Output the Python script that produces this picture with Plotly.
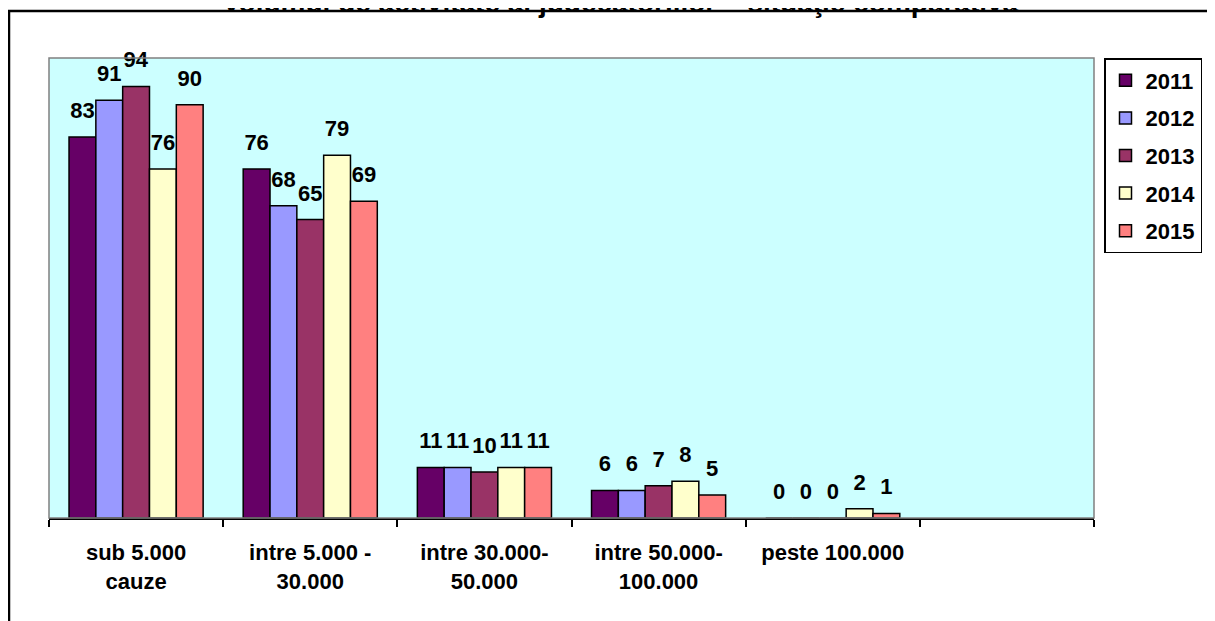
import plotly.graph_objects as go

categories = ["sub 5.000<br>cauze", "intre 5.000 -<br>30.000", "intre 30.000-<br>50.000",
              "intre 50.000-<br>100.000", "peste 100.000", " "]
years = ["2011", "2012", "2013", "2014", "2015"]
values = {
    "2011": [83, 76, 11, 6, 0],
    "2012": [91, 68, 11, 6, 0],
    "2013": [94, 65, 10, 7, 0],
    "2014": [76, 79, 11, 8, 2],
    "2015": [90, 69, 11, 5, 1],
}
colors = ["#660066", "#9999FF", "#993366", "#FFFFCC", "#FF8080"]
title = "Volumul de activitate al judecătoriilor – situaţie comparativă"
label_pad = 2.4  # gap (in value units) between bar top and its label

FONT = "Arial, Liberation Sans, sans-serif"
W, H = 1215, 621
OFF = 8  # page body margin
# plot area in screen pixels
SL, ST, SR, SB = 49, 58, 1094, 518
L, T = SL - OFF, ST - OFF
R, B = W - (SR - OFF), H - (SB - OFF)
pw, ph = SR - SL, SB - ST

def px(x):
    return (x - SL) / pw

def py(y):
    return (SB - y) / ph

fig = go.Figure()
for i, yr in enumerate(years):
    fig.add_trace(go.Bar(
        name=yr, x=categories[:5], y=values[yr], offsetgroup=yr,
        marker=dict(color=colors[i], line=dict(color="black", width=1.5)),
        legendgroup=yr, hoverinfo="x+y+name",
    ))
for i, yr in enumerate(years):
    fig.add_trace(go.Bar(
        name=yr, x=categories[:5], y=[label_pad] * len(values[yr]), base=values[yr],
        offsetgroup=yr, showlegend=False, hoverinfo="skip",
        marker=dict(color="rgba(0,0,0,0)", line=dict(width=0)),
        text=[str(v) for v in values[yr]], textposition="outside",
        textfont=dict(family=FONT, size=22, color="black", weight="bold"),
        constraintext="none", cliponaxis=False, legendgroup=yr,
    ))

fig.update_layout(
    width=W, height=H,
    margin=dict(l=L, r=R, t=T, b=B, autoexpand=False),
    paper_bgcolor="white", plot_bgcolor="#CCFFFF",
    barmode="group", bargap=0.23, bargroupgap=0,
    showlegend=True,
    legend=dict(x=px(1104), y=1.0, xanchor="left", yanchor="top",
                bordercolor="black", borderwidth=1.5, bgcolor="white",
                font=dict(family=FONT, size=22, color="black", weight="bold"),
                tracegroupgap=6, traceorder="grouped"),
    xaxis=dict(type="category", categoryorder="array", categoryarray=categories,
               range=[-0.5, 5.5], tickson="boundaries", ticks="outside", ticklen=7,
               tickwidth=1.5, tickcolor="black", showline=True, linecolor="black",
               linewidth=2, showgrid=False, ticklabelstandoff=14,
               tickfont=dict(family=FONT, size=22, color="black", weight="bold")),
    yaxis=dict(range=[0, 100.2], visible=False, showgrid=False),
    shapes=[
        dict(type="rect", xref="paper", yref="paper", x0=0, x1=1, y0=0, y1=1,
             line=dict(color="#808080", width=1.5), layer="above"),
        dict(type="rect", xref="paper", yref="paper", x0=px(9), x1=px(1240),
             y0=py(11), y1=py(650), line=dict(color="black", width=2.5)),
    ],
    annotations=[
        dict(text="<b>" + title + "</b>", xref="paper", yref="paper",
             x=px(620), y=py(20), xanchor="center", yanchor="bottom", showarrow=False,
             font=dict(family=FONT, size=28, color="black")),
    ],
)

fig.write_html("out.html")
